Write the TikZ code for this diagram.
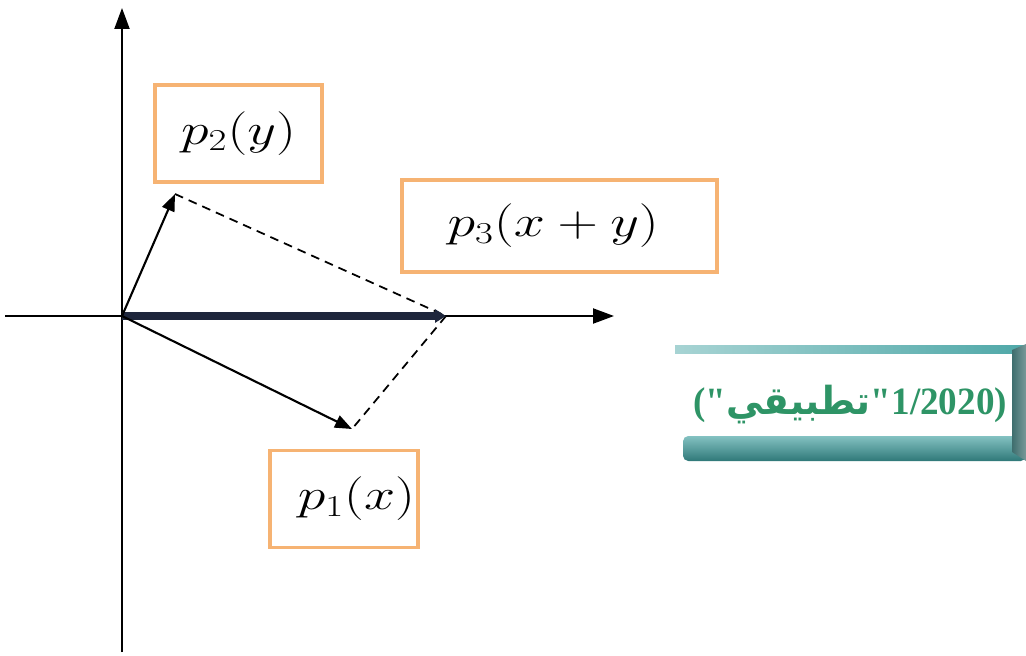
\documentclass[tikz,border=0pt]{standalone}
\usepackage{fontspec}
\usepackage{graphicx}
\setmainfont{Liberation Serif}[Ligatures=TeXOff]
\newfontfamily\arabicfont[Script=Arabic]{DejaVu Sans}
\TeXXeTstate=1
\usetikzlibrary{arrows.meta}
\definecolor{boxorange}{HTML}{F6B373}
\definecolor{bannergreen}{HTML}{2E9466}
\definecolor{tealA}{HTML}{4FA8A8}
\definecolor{tealB}{HTML}{2F7878}
\definecolor{tealC}{HTML}{3E6E6E}
\newcommand{\widemath}[1]{\scalebox{1.28}[1]{$#1$}}
\tikzset{
  axis/.style={line width=1.2pt, -{Triangle[length=0.42cm,width=0.3cm]}},
  vec/.style={line width=1.2pt, -{Triangle[length=0.34cm,width=0.26cm]}},
  sumvec/.style={line width=5pt, draw={rgb,255:red,30;green,38;blue,60}, -{Triangle[length=0.22cm,width=0.26cm]}},
  guide/.style={line width=1pt, dashed, dash pattern=on 5pt off 3.5pt},
  labbox/.style={draw=boxorange, line width=1.8pt, fill=white, inner sep=0pt,
     font=\fontsize{26}{30}\selectfont},
  banner/.style={inner sep=0pt, text=bannergreen, font=\bfseries\fontsize{22}{26}\selectfont}
}
\begin{document}
\begin{tikzpicture}[x=0.02cm,y=-0.02cm]
\useasboundingbox (0,0) rectangle (1026,655);
% axes
\coordinate (O) at (122,316);
\coordinate (ybot) at (122,652);
\coordinate (ytop) at (122,8);
\coordinate (xl) at (5,316);
\coordinate (xr) at (614,316);
\draw[axis] (ybot) -- (ytop);
\draw[axis] (xl) -- (xr);
% vectors
\coordinate (A) at (175,194);
\coordinate (B) at (352,429);
\coordinate (C) at (446,316);
\draw[guide] (A) -- (C);
\draw[guide] (C) -- (B);
\draw[sumvec] (O) -- (C);
\draw[vec] (O) -- (A);
\draw[vec] (O) -- (B);
% label boxes
\node[labbox, minimum width=167*0.02cm, minimum height=97*0.02cm] (p2) at (238.5,133.5) {\widemath{p_2(y)}};
\node[labbox, minimum width=315*0.02cm, minimum height=92*0.02cm] (p3) at (559.5,226) {\hspace*{-0.25cm}\widemath{p_3(x+y)}};
\node[labbox, minimum width=148*0.02cm, minimum height=97*0.02cm, text width=142*0.02cm, align=right] (p1) at (344,499) {\widemath{p_1(x)}};
% banner
\shade[left color=tealA!50, right color=tealA] (675,345) rectangle (1026,353);
\shade[top color=tealA!70, bottom color=tealB, rounded corners=3pt] (683,436) rectangle (1026,461);
\shade[left color=tealC, right color=tealC!70!white] (1012,350) -- (1026,344) -- (1026,461) -- (1012,452) -- cycle;
\node[banner] (ban) at (850,405) {\resizebox{6.28cm}{\height}{("{\arabicfont\beginR تطبيقي\endR}"1/2020)}};
\end{tikzpicture}
\end{document}
